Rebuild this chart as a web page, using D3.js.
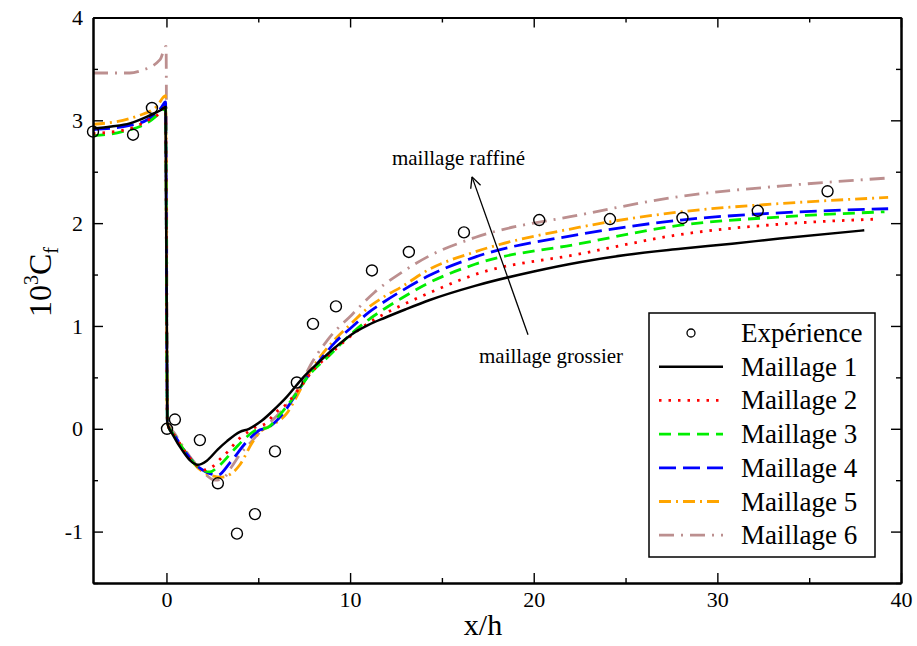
<!DOCTYPE html>
<html><head><meta charset="utf-8">
<script src="https://cdn.jsdelivr.net/npm/d3@7"></script>
<style>
body{margin:0;background:#fff}
text{font-family:"Liberation Serif","Times New Roman",Times,serif;fill:#000}
</style>
</head><body>
<svg id="c" width="917" height="646"></svg>
<script>
// ---- data ----
const expX = [-4, -1.82, -0.79, 0.03, 0.46, 1.82, 2.8, 3.84, 4.82, 5.91, 7.1, 7.98, 9.23, 11.19, 13.2, 16.2, 20.3, 24.15, 28.1, 32.2, 36.0];
const expY = [2.89, 2.86, 3.12, 0.0, 0.09, -0.11, -0.53, -1.02, -0.83, -0.22, 0.45, 1.02, 1.19, 1.54, 1.72, 1.91, 2.03, 2.04, 2.05, 2.12, 2.31];

const m1 = [[-4,2.92],[-3,2.94],[-2,2.97],[-1,3.04],[-0.3,3.10],[-0.05,3.13],[0.05,0.05],[0.35,-0.06],[0.9,-0.22],[1.3,-0.31],[1.7,-0.35],[2.2,-0.31],[2.8,-0.2],[3.3,-0.12],[4.0,-0.03],[4.5,0.0],[5.2,0.08],[6.0,0.21],[6.45,0.29],[7.5,0.51],[8.25,0.64],[9.18,0.79],[10.1,0.92],[11.0,1.01],[11.9,1.08],[13.0,1.16],[14.3,1.25],[16.8,1.39],[20,1.53],[22.5,1.62],[25,1.69],[28,1.75],[30.8,1.80],[33.4,1.85],[38,1.93]];
const m2 = [[-4,2.87],[-2,2.92],[-1,3.0],[-0.3,3.08],[-0.05,3.13],[0.05,0.05],[0.5,-0.08],[1.0,-0.22],[1.6,-0.35],[2.1,-0.40],[2.5,-0.37],[2.9,-0.30],[3.35,-0.22],[4.0,-0.09],[4.45,-0.03],[4.9,0.02],[5.4,0.05],[5.9,0.15],[6.6,0.25],[7.3,0.41],[7.9,0.55],[9.0,0.74],[10.6,0.98],[11.9,1.12],[12.8,1.20],[14.3,1.32],[16.8,1.50],[22.5,1.70],[28,1.89],[33.4,1.99],[38.8,2.04]];
const m3 = [[-4,2.85],[-2.4,2.89],[-1,2.98],[-0.3,3.08],[-0.05,3.12],[0.05,0.05],[0.5,-0.08],[1.0,-0.22],[1.7,-0.37],[2.37,-0.42],[2.8,-0.37],[3.7,-0.2],[4.3,-0.09],[4.9,-0.01],[5.5,0.01],[6.1,0.12],[6.9,0.30],[7.8,0.53],[8.8,0.70],[10.1,0.93],[11.0,1.06],[11.9,1.17],[12.8,1.27],[14.3,1.42],[16.8,1.60],[22.5,1.80],[28,1.98],[33.4,2.06],[39.1,2.11]];
const m4 = [[-4,2.91],[-2,2.95],[-1,3.01],[-0.3,3.12],[-0.05,3.18],[0.05,0.05],[0.5,-0.08],[1.0,-0.22],[1.8,-0.38],[2.8,-0.45],[3.46,-0.33],[4.4,-0.12],[5.1,-0.01],[5.5,0.01],[6.35,0.15],[7.0,0.32],[7.5,0.46],[8.25,0.64],[9.18,0.84],[10.1,0.99],[11.0,1.13],[11.9,1.24],[12.8,1.34],[14.3,1.49],[16.8,1.67],[22.5,1.89],[28,2.03],[33.4,2.10],[39.3,2.14]];
const m5 = [[-4,2.96],[-1.6,3.04],[-0.5,3.14],[-0.05,3.24],[0.05,0.05],[0.5,-0.08],[1.0,-0.22],[2.0,-0.42],[3.0,-0.47],[4.0,-0.35],[4.65,-0.14],[5.1,-0.03],[5.8,0.04],[6.55,0.15],[7.2,0.35],[7.7,0.52],[8.25,0.67],[9.18,0.87],[10.1,1.03],[11.0,1.18],[11.9,1.29],[12.8,1.38],[14.3,1.55],[16.8,1.72],[22.5,1.96],[28,2.11],[33.4,2.19],[39.3,2.25]];
const m6 = [[-4,3.46],[-2,3.46],[-1.45,3.48],[-0.35,3.59],[-0.02,3.72],[0.05,0.08],[0.5,-0.06],[1.0,-0.2],[2.0,-0.42],[2.65,-0.50],[3.1,-0.48],[3.55,-0.37],[4.0,-0.25],[4.55,-0.14],[5.1,-0.03],[5.8,0.09],[6.6,0.24],[7.3,0.42],[7.7,0.57],[8.8,0.87],[10.1,1.11],[11.35,1.33],[12.8,1.52],[14.3,1.68],[16.8,1.86],[22.5,2.08],[28,2.26],[33.4,2.36],[39.4,2.44]];

const seriesNames = ["Maillage 1","Maillage 2","Maillage 3","Maillage 4","Maillage 5","Maillage 6"];
const seriesData = [m1,m2,m3,m4,m5,m6];
const seriesColors = ["#000000","#ff0000","#00ee00","#0000ff","#ffa500","#bc8f8f"];
const seriesDash = ["", "2.5,7", "12,7", "17,7", "12,5,2,5", "15,7,2,7"];

const xMajor = [0,10,20,30,40];
const xMinor = [5,15,25,35];
const yMajor = [-1,0,1,2,3,4];
const yMinor = [-1.5,-0.5,0.5,1.5,2.5,3.5];

// ---- layout ----
const svg = d3.select("#c");
const L=93, R=901, T=17.5, B=583;
const x = d3.scaleLinear().domain([-4,40]).range([L,R]);
const y = d3.scaleLinear().domain([-1.5,4]).range([B,T]);

// curves
svg.append("clipPath").attr("id","pc").append("rect")
  .attr("x",L).attr("y",T).attr("width",R-L).attr("height",B-T);
const line = d3.line().x(d=>x(d[0])).y(d=>y(d[1])).curve(d3.curveMonotoneX);
const g = svg.append("g").attr("clip-path","url(#pc)");
[5,4,3,2,1,0].forEach(i=>{
  g.append("path").attr("d", line(seriesData[i]))
    .attr("fill","none").attr("stroke",seriesColors[i])
    .attr("stroke-width", i===0?2.5:2.8)
    .attr("stroke-dasharray", seriesDash[i] || null);
});

// experiment
svg.append("g").selectAll("circle").data(expX.map((v,i)=>[v,expY[i]])).join("circle")
  .attr("cx",d=>x(d[0])).attr("cy",d=>y(d[1])).attr("r",5.5)
  .attr("fill","none").attr("stroke","#000").attr("stroke-width",1.4);

// axes
function styleAxis(sel, hideText){
  sel.selectAll("path.domain").attr("stroke","#000").attr("stroke-width",2);
  sel.selectAll(".tick line").attr("stroke","#000").attr("stroke-width",1.4);
  sel.selectAll("text").attr("font-size",22).attr("font-family","Liberation Serif, Times New Roman, serif").attr("fill","#000");
  if(hideText) sel.selectAll("text").remove();
}
const fmt = d => String(d);
styleAxis(svg.append("g").attr("transform",`translate(0,${B})`)
  .call(d3.axisBottom(x).tickValues(xMajor).tickFormat(fmt).tickSizeInner(-10).tickSizeOuter(0).tickPadding(8)), false);
styleAxis(svg.append("g").attr("transform",`translate(0,${B})`)
  .call(d3.axisBottom(x).tickValues(xMinor).tickSizeInner(-5).tickSizeOuter(0)), true);
styleAxis(svg.append("g").attr("transform",`translate(0,${T})`)
  .call(d3.axisTop(x).tickValues(xMajor).tickSizeInner(-10).tickSizeOuter(0)), true);
styleAxis(svg.append("g").attr("transform",`translate(0,${T})`)
  .call(d3.axisTop(x).tickValues(xMinor).tickSizeInner(-5).tickSizeOuter(0)), true);
styleAxis(svg.append("g").attr("transform",`translate(${L},0)`)
  .call(d3.axisLeft(y).tickValues(yMajor).tickFormat(fmt).tickSizeInner(-10).tickSizeOuter(0).tickPadding(10)), false);
styleAxis(svg.append("g").attr("transform",`translate(${L},0)`)
  .call(d3.axisLeft(y).tickValues(yMinor).tickSizeInner(-5).tickSizeOuter(0)), true);
styleAxis(svg.append("g").attr("transform",`translate(${R},0)`)
  .call(d3.axisRight(y).tickValues(yMajor).tickSizeInner(-10).tickSizeOuter(0)), true);
styleAxis(svg.append("g").attr("transform",`translate(${R},0)`)
  .call(d3.axisRight(y).tickValues(yMinor).tickSizeInner(-5).tickSizeOuter(0)), true);

// axis titles
svg.append("text").attr("x",(L+R)/2-14).attr("y",635).attr("text-anchor","middle")
  .attr("font-size",30).text("x/h");
const yt = svg.append("text").attr("transform","translate(51,282) rotate(-90)")
  .attr("text-anchor","middle").attr("font-size",32);
yt.append("tspan").text("10");
yt.append("tspan").attr("font-size",20).attr("dy",-13).text("3");
yt.append("tspan").attr("dy",13).text("C");
yt.append("tspan").attr("font-size",20).attr("dy",7).text("f");

// annotation
const arrowTail = [19.69, 0.915], arrowTip = [16.64, 2.45];
const ax1=x(arrowTail[0]), ay1=y(arrowTail[1]), ax2=x(arrowTip[0]), ay2=y(arrowTip[1]);
svg.append("line").attr("x1",ax1).attr("y1",ay1).attr("x2",ax2).attr("y2",ay2)
  .attr("stroke","#000").attr("stroke-width",1.3);
const ang = Math.atan2(ay1-ay2, ax1-ax2);
[0.45,-0.45].forEach(da=>{
  svg.append("line").attr("x1",ax2).attr("y1",ay2)
    .attr("x2",ax2+12*Math.cos(ang+da)).attr("y2",ay2+12*Math.sin(ang+da))
    .attr("stroke","#000").attr("stroke-width",1.3);
});
svg.append("text").attr("x",x(12.28)).attr("y",y(2.57)).attr("font-size",21).text("maillage raffiné");
svg.append("text").attr("x",x(17.02)).attr("y",y(0.64)).attr("font-size",21).text("maillage grossier");

// legend
const lg = svg.append("g");
lg.append("rect").attr("x",649).attr("y",313).attr("width",226).attr("height",244)
  .attr("fill","#fff").attr("stroke","#000").attr("stroke-width",1.5);
const rowY = d3.range(7).map(i=>333+i*33.7);
lg.append("circle").attr("cx",691).attr("cy",rowY[0]).attr("r",4)
  .attr("fill","none").attr("stroke","#000").attr("stroke-width",1.3);
lg.append("text").attr("x",741).attr("y",rowY[0]+9).attr("font-size",27).text("Expérience");
seriesNames.forEach((n,i)=>{
  const yy = rowY[i+1];
  lg.append("line").attr("x1",659).attr("x2",723).attr("y1",yy).attr("y2",yy)
    .attr("stroke",seriesColors[i]).attr("stroke-width",i===0?2.5:2.8)
    .attr("stroke-dasharray",seriesDash[i]||null);
  lg.append("text").attr("x",741).attr("y",yy+9).attr("font-size",27).text(n);
});
</script>
</body></html>
